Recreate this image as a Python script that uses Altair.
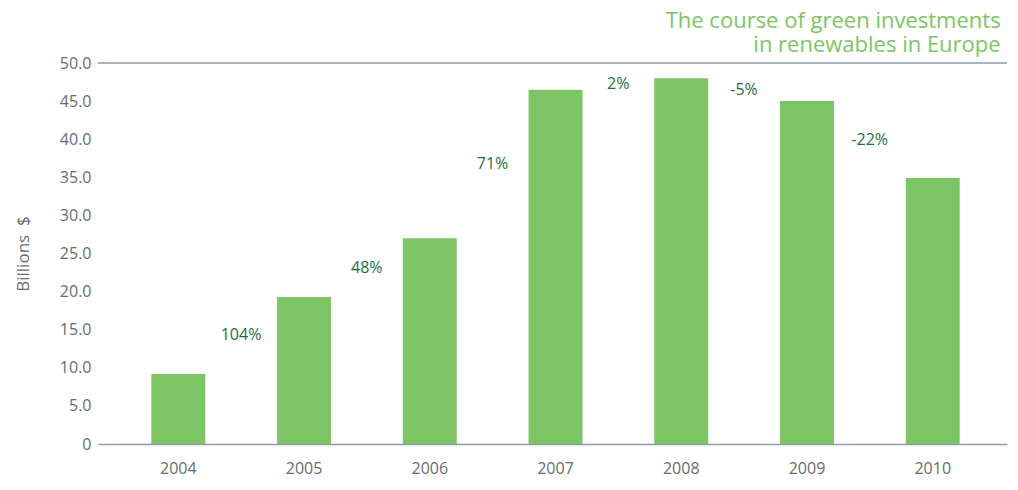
import altair as alt
import pandas as pd

years = ["2004", "2005", "2006", "2007", "2008", "2009", "2010"]
values = [9.2, 19.3, 27.0, 46.5, 48.0, 45.0, 34.9]
changes = ["104%", "48%", "71%", "2%", "-5%", "-22%"]
y_ticks = [0, 5, 10, 15, 20, 25, 30, 35, 40, 45, 50]

bars_df = pd.DataFrame({"year": years, "value": values})
# change labels sit between consecutive bars, at mid-height of the pair
labels_df = pd.DataFrame({
    "year": years[1:],
    "label": changes,
    "mid": [(a + b) / 2 for a, b in zip(values[:-1], values[1:])],
})
top_df = pd.DataFrame({"v": [50]})

FONT = "Open Sans"
W, H = 909, 381
GREY = "#6b6b6b"
LINE = "#8e9aa6"

xscale = alt.Scale(domain=years, paddingInner=0.571, paddingOuter=0.4, align=0.53)
xaxis = alt.Axis(ticks=False, labelPadding=16, labelFontSize=16,
                 labelColor=GREY, labelFont=FONT,
                 domainColor=LINE, domainWidth=1.3, labelAngle=0)
yscale = alt.Scale(domain=[0, 50], nice=False)
yaxis = alt.Axis(values=y_ticks, ticks=False, domain=False, grid=False,
                 labelOverlap=False,
                 labelExpr="datum.value == 0 ? '0' : format(datum.value, '.1f')",
                 labelFontSize=16, labelColor=GREY, labelFont=FONT,
                 labelPadding=7, titleFont=FONT, titleFontSize=17,
                 titleFontWeight="normal", titleColor=GREY,
                 titlePadding=27)
YTITLE = "Billions\u00a0\u00a0$"

bars = alt.Chart(bars_df).mark_bar(color="#7dc465").encode(
    x=alt.X("year:N", title=None, scale=xscale, axis=xaxis),
    y=alt.Y("value:Q", scale=yscale, title=YTITLE, axis=yaxis),
)

texts = alt.Chart(labels_df).mark_text(
    font=FONT, fontSize=16, color="#1e6e44", dx=-63
).encode(
    x=alt.X("year:N", title=None, scale=xscale, axis=xaxis),
    y=alt.Y("mid:Q", scale=yscale, title=YTITLE, axis=yaxis),
    text="label:N",
)

top = alt.Chart(top_df).mark_rule(color=LINE, strokeWidth=1.3).encode(
    y=alt.Y("v:Q", scale=yscale, title=YTITLE, axis=yaxis)
)

chart = alt.layer(bars, top, texts).properties(
    width=W, height=H,
    padding={"left": 6, "top": 2, "right": 0, "bottom": 5},
    title=alt.Title(["The course of green investments", "in renewables in Europe"],
                    anchor="end", font=FONT, fontSize=22, fontWeight="normal",
                    color="#7dc465", lineHeight=24, offset=-2, dx=-7),
).configure_view(stroke=None)

chart.save("out.html", embed_options={"renderer": "svg", "actions": False})
